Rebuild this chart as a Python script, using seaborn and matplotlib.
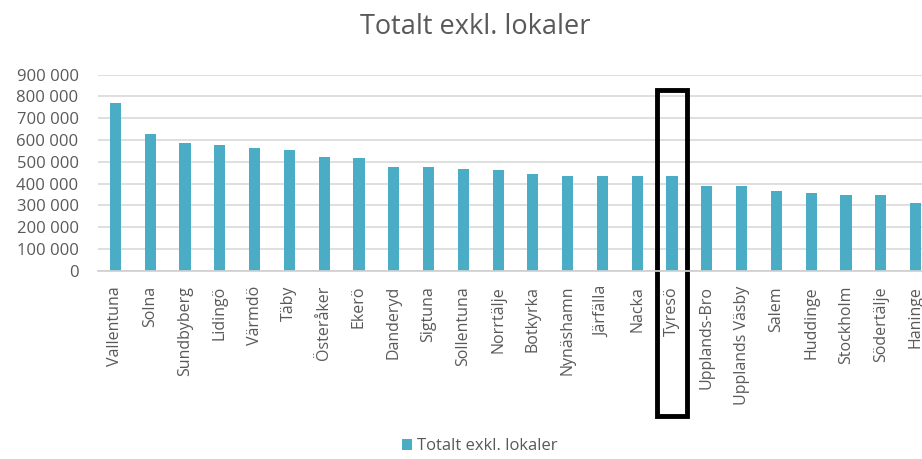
import numpy as np
import pandas as pd
import matplotlib
matplotlib.use("Agg")
import matplotlib.pyplot as plt
import matplotlib.transforms as mtransforms
from matplotlib.patches import Rectangle
from matplotlib.ticker import FuncFormatter, MultipleLocator
import seaborn as sns

# data
kommuner = ["Vallentuna", "Solna", "Sundbyberg", "Lidingö", "Värmdö", "Täby",
            "Österåker", "Ekerö", "Danderyd", "Sigtuna", "Sollentuna", "Norrtälje",
            "Botkyrka", "Nynäshamn", "Järfälla", "Nacka", "Tyresö", "Upplands-Bro",
            "Upplands Väsby", "Salem", "Huddinge", "Stockholm", "Södertälje", "Haninge"]
totalt = [769000, 626000, 587000, 579000, 564000, 556000,
          524000, 516000, 476000, 476000, 469000, 461000,
          444000, 436000, 436000, 436000, 436000, 387000,
          387000, 364000, 357000, 349000, 349000, 309000]
serie_namn = "Totalt exkl. lokaler"
markerad = "Tyresö"

df = pd.DataFrame({"Kommun": kommuner, "Varde": totalt})

sns.set_theme(style="white")
plt.rcParams["font.family"] = ["Open Sans", "DejaVu Sans"]

grey = "#595959"
bar_color = "#4BACC6"

fig = plt.figure(figsize=(9.22, 4.59), dpi=100)
# axes runs past the right edge, like the cropped original
ax = fig.add_axes([98 / 922, (459 - 270.7) / 459, 835 / 922, 196 / 459])

sns.barplot(data=df, x="Kommun", y="Varde", color=bar_color, width=0.32,
            saturation=1, ax=ax, label=serie_namn, linewidth=0)
if ax.get_legend() is not None:
    ax.get_legend().remove()

ax.set_ylim(0, 900000)
ax.set_xlim(-0.5, len(kommuner) - 0.5)
ax.yaxis.set_major_locator(MultipleLocator(100000))
ax.yaxis.set_major_formatter(FuncFormatter(lambda v, p: f"{int(v):,}".replace(",", " ")))
ax.grid(axis="y", color="#D9D9D9", linewidth=1.2)
ax.set_axisbelow(True)
for s in ["top", "right", "left"]:
    ax.spines[s].set_visible(False)
ax.spines["bottom"].set_color("#D0D0D0")
ax.set_xlabel("")
ax.set_ylabel("")
ax.tick_params(axis="y", labelsize=12, colors=grey, pad=14, length=0)
ax.tick_params(axis="x", labelsize=11.5, colors=grey, length=0, pad=11)
plt.setp(ax.get_xticklabels(), rotation=90)

# black box around the highlighted municipality
idx = kommuner.index(markerad)
trans = mtransforms.blended_transform_factory(ax.transData, ax.transAxes)
ax.add_patch(Rectangle((idx - 0.43, -0.742), 0.86, 1.664, transform=trans,
                       fill=False, edgecolor="black", linewidth=3.5, clip_on=False))

fig.suptitle(serie_namn, x=475 / 922, y=1 - 13 / 459, va="top",
             fontsize=19.5, color=grey)

handles, labels = ax.get_legend_handles_labels()
leg = fig.legend(handles, labels, loc="lower center", bbox_to_anchor=(480 / 922, -0.022),
                 frameon=False, fontsize=12, handlelength=0.6, handleheight=0.6,
                 handletextpad=0.3)
for t in leg.get_texts():
    t.set_color(grey)

fig.savefig("out.png", dpi=100)
